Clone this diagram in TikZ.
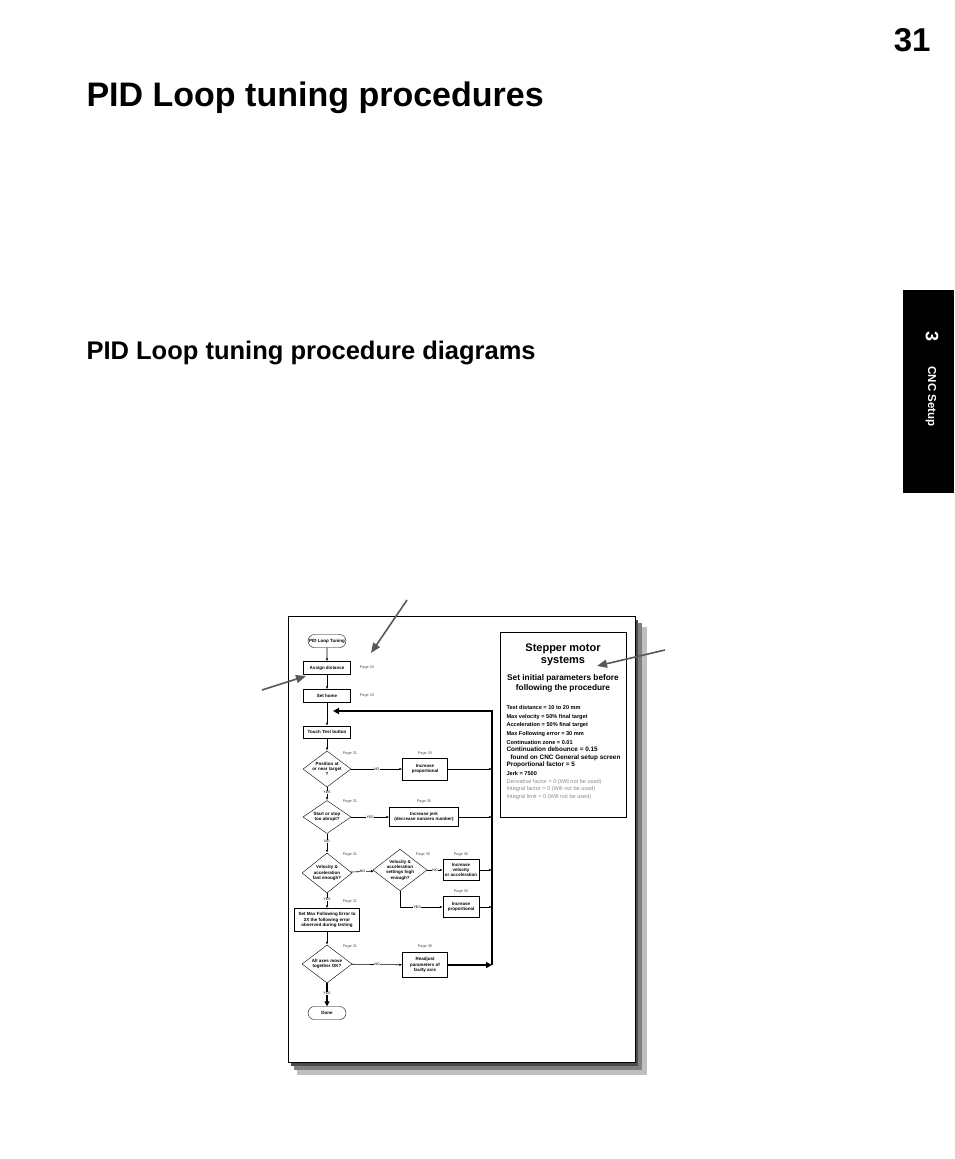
\documentclass[tikz,border=0pt]{standalone}
\usepackage{fontspec}
\setmainfont{Liberation Sans}
\usetikzlibrary{shapes.geometric,shapes.misc,arrows.meta}
\begin{document}
\begin{tikzpicture}[x=1pt,y=-1pt,
  fbox/.style={draw,thin,fill=white,align=center,font=\fontsize{4.5}{5.3}\selectfont\bfseries,inner sep=1pt},
  term/.style={fbox,rounded rectangle,minimum width=40,minimum height=13},
  dia/.style={fbox,diamond,aspect=1.3,inner sep=0pt},
  pg/.style={font=\fontsize{3.8}{4}\selectfont,text=black!70},
  lbl/.style={font=\fontsize{3.6}{4}\selectfont,fill=white,inner sep=0.3pt},
  ar/.style={-{Latex[length=3pt,width=2.4pt]},semithick},
  thk/.style={line width=2.2pt},
  gar/.style={draw=black!65,line width=1.6pt,-{Triangle[length=10pt,width=8pt]}}]
\useasboundingbox (0,0) rectangle (954,1159);
\fill[white] (0,0) rectangle (954,1159);
\node[font=\fontsize{33}{33}\selectfont\bfseries,anchor=east] (pn) at (934,40) {31};
\node[font=\fontsize{34}{34}\selectfont\bfseries,anchor=west] (ttl) at (83,98) {PID Loop tuning procedures};
\node[font=\fontsize{25.5}{26}\selectfont\bfseries,anchor=west] (sub) at (83,353) {PID Loop tuning procedure diagrams};
\fill[black] (903,290) rectangle (954,493);
\node[rotate=-90,text=white,font=\fontsize{18}{18}\selectfont\bfseries] (tn) at (932,337) {3};
\node[rotate=-90,text=white,font=\fontsize{11.5}{11.5}\selectfont\bfseries,anchor=west] (tt) at (931,363) {CNC Setup};
% page with shadow
\fill[black!25] (297,627) rectangle (647,1075);
\fill[black!50] (294,623) rectangle (642,1070);
\fill[black!70] (291,620) rectangle (638,1066);
\draw[fill=white,semithick] (288,616) rectangle (635,1062);
% flowchart
\node[term] (start) at (327,641) {PID Loop Tuning};
\node[fbox,minimum width=47,minimum height=13] (assign) at (327,668) {Assign distance};
\node[fbox,minimum width=47,minimum height=13] (home) at (327,696) {Set home};
\node[fbox,minimum width=47,minimum height=12] (touch) at (327,732) {Touch Test button};
\node[dia,minimum width=48,minimum height=35] (d1) at (327,769) {Position at\\or near target\\?};
\node[dia,minimum width=48,minimum height=33] (d2) at (327,817) {Start or stop\\too abrupt?};
\node[dia,minimum width=50,minimum height=40] (d3) at (327,873) {Velocity \&\\acceleration\\fast enough?};
\node[dia,minimum width=53,minimum height=34] (d4) at (400,870) {Velocity \&\\acceleration\\settings high\\enough?};
\node[fbox,minimum width=65,minimum height=23] (setmax) at (327,920) {Set Max Following Error to\\2X the following error\\observed during testing};
\node[dia,minimum width=50,minimum height=38] (d5) at (327,964) {All axes move\\together OK?};
\node[term] (done) at (327,1013) {Done};
\node[fbox,minimum width=45,minimum height=22] (b1) at (425,769) {Increase\\proportional};
\node[fbox,minimum width=69,minimum height=19] (b2) at (424,817) {Increase jerk\\(decrease nonzero number)};
\node[fbox,minimum width=36,minimum height=21] (b3) at (461,870) {Increase\\velocity\\or acceleration};
\node[fbox,minimum width=36,minimum height=21] (b4) at (461,907) {Increase\\proportional};
\node[fbox,minimum width=45,minimum height=25] (b5) at (425,965) {Readjust\\parameters of\\faulty axis};
\foreach \n/\x/\y/\t in {p1/367/668/33,p2/367/696/33,p3/350/754/31,p4/425/754/33,p5/350/802/31,p6/424/802/35,p7/350/855/31,p8/423/855/35,p9/461/855/36,p10/461/892/30,p11/350/902/31,p12/350/947/31,p13/425/947/38}
  \node[pg] (\n) at (\x,\y) {Page \t};
\coordinate (rt) at (492,711);
\coordinate (rb) at (492,965);
\draw[ar] (start) -- (assign);
\draw[ar] (assign) -- (home);
\draw[ar] (home) -- (touch);
\draw[ar] (touch) -- (d1);
\draw[ar] (d1) -- node[lbl,pos=0.4]{YES} (d2);
\draw[ar] (d2) -- node[lbl,pos=0.4]{NO} (d3);
\draw[ar] (d3) -- node[lbl,pos=0.4]{YES} (setmax);
\draw[ar] (setmax) -- (d5);
\draw[ar] (d1) -- node[lbl]{NO} (b1);
\draw[ar] (d2) -- node[lbl]{YES} (b2);
\draw[ar] (d3) -- node[lbl]{NO} (d4);
\draw[ar] (d4) -- node[lbl]{NO} (b3);
\draw[ar] (d4.south) |- node[lbl,pos=0.7]{YES} (b4);
\draw[ar] (d5) -- node[lbl]{NO} (b5);
\draw[ar] (b1) -- (b1 -| rt);
\draw[ar] (b2) -- (b2 -| rt);
\draw[ar] (b3) -- (b3 -| rt);
\draw[ar] (b4) -- (b4 -| rt);
\draw[thk,-{Triangle[length=6pt,width=6pt]}] (b5) -- (rb);
\draw[thk,-{Triangle[length=6pt,width=6pt]}] (rb) -- (rt) -- (333,711);
\draw[thk,-{Triangle[length=5pt,width=5pt]}] (d5) -- node[lbl,pos=0.45]{YES} (done);
% info box
\draw[semithick] (500,632) rectangle (626,817);
\node[font=\fontsize{11}{12.5}\selectfont\bfseries,align=center] (it) at (563,655) {Stepper motor\\systems};
\node[font=\fontsize{8.3}{9.8}\selectfont\bfseries,align=center] (is) at (563,683) {Set initial parameters before\\following the procedure};
\node[font=\fontsize{5.6}{8.6}\selectfont\bfseries,align=left,anchor=north west] (il) at (503,702) {Test distance = 10 to 20 mm\\Max velocity = 50\% final target\\Acceleration = 50\% final target\\Max Following error = 30 mm\\Continuation zone = 0.01\\[-1pt]{\fontsize{6.4}{7}\selectfont Continuation debounce = 0.15}\\[-1pt]\hspace{4pt}{\fontsize{6.4}{7}\selectfont found on CNC General setup screen}\\[-1pt]{\fontsize{6.4}{7}\selectfont Proportional factor = 5}\\Jerk = 7500\\[-1pt]{\color{black!45}\mdseries Derivative factor = 0 (Will not be used)}\\[-1pt]{\color{black!45}\mdseries Integral factor = 0 (Will not be used)}\\[-1pt]{\color{black!45}\mdseries Integral limit = 0 (Will not be used)}};
% pointer arrows
\coordinate (a1s) at (407,600); \coordinate (a1e) at (371,653);
\coordinate (a2s) at (262,690); \coordinate (a2e) at (306,676);
\coordinate (a3s) at (665,650); \coordinate (a3e) at (597,666);
\draw[gar] (a1s) -- (a1e);
\draw[gar] (a2s) -- (a2e);
\draw[gar] (a3s) -- (a3e);
\end{tikzpicture}
\end{document}
